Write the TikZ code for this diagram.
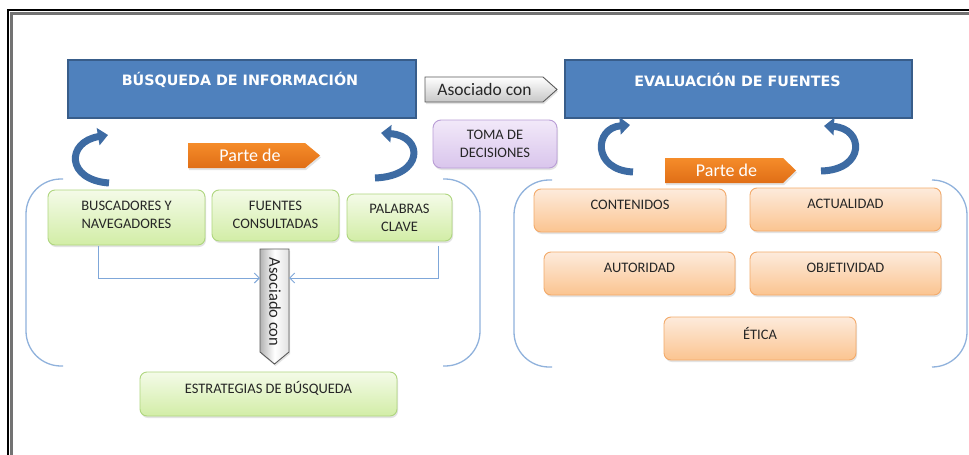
\documentclass[tikz,border=0pt]{standalone}
\usepackage{fontspec}
\setmainfont{Carlito}
\newfontfamily\headfont{DejaVu Sans}
\usetikzlibrary{arrows.meta,shadows,calc}
\definecolor{blueF}{HTML}{4F81BD}
\definecolor{blueD}{HTML}{385D8A}
\definecolor{arcB}{HTML}{3D6BA3}
\definecolor{grnT}{HTML}{F4FBE8}
\definecolor{grnB}{HTML}{D2EDA6}
\definecolor{grnD}{HTML}{AFD67F}
\definecolor{orT}{HTML}{FDEBDC}
\definecolor{orB}{HTML}{FBC490}
\definecolor{orD}{HTML}{F3AA6A}
\definecolor{puT}{HTML}{F2E9F9}
\definecolor{puB}{HTML}{D9C5EC}
\definecolor{puD}{HTML}{B99DD6}
\definecolor{tagO}{HTML}{F58C2A}
\definecolor{tagOD}{HTML}{E06E16}
\definecolor{lineB}{HTML}{7FA7D9}
\definecolor{brk}{HTML}{90B2DC}
\begin{document}
\begin{tikzpicture}[x=1pt,y=-1pt,
  headbox/.style={draw=blueD,line width=1.2,fill=blueF,inner sep=0},
  headtxt/.style={font=\headfont\bfseries\fontsize{14.3}{16}\selectfont,text=white,inner sep=0},
  shad/.style={drop shadow={opacity=0.22,shadow xshift=1pt,shadow yshift=-2pt}},
  gbox/.style={draw=grnD,line width=0.9,rounded corners=7,top color=grnT,bottom color=grnB,inner sep=0,shad},
  obox/.style={draw=orD,line width=0.9,rounded corners=7,top color=orT,bottom color=orB,inner sep=0,shad},
  pbox/.style={draw=puD,line width=0.9,rounded corners=8,top color=puT,bottom color=puB,inner sep=0,shad},
  lbl/.style={font=\fontsize{14.5}{18}\selectfont,text=black!85,align=center,inner sep=0},
  tagtxt/.style={font=\fontsize{18}{20}\selectfont,text=white,inner sep=0},
  ortag/.style={top color=tagO,bottom color=tagOD,draw=none,shad},
  graytag/.style={draw=black!65,line width=0.9,shad},
  curv/.style={draw=arcB,line width=7,-{Triangle[length=10pt,width=17pt]}},
  conn/.style={draw=lineB,line width=1,-{Straight Barb[length=5pt,width=10pt]}},
  brace/.style={draw=brk,line width=1.3,rounded corners=35}
]
\useasboundingbox (0,0) rectangle (969,455);
\fill[white] (0,0) rectangle (969,455);
% frame
\draw[black!55,line width=3] (11.5,455) -- (11.5,13.5) -- (969,13.5);
\draw[black,line width=1.6] (8,455) -- (8,10) -- (969,10);

% headings
\node[headbox,minimum width=348,minimum height=58] (bq) at (242,89) {};
\node[headtxt] (bqt) at (240,80) {BÚSQUEDA DE INFORMACIÓN};
\node[headbox,minimum width=347,minimum height=58] (ev) at (738.5,89) {};
\node[headtxt] (evt) at (737.5,80) {EVALUACIÓN DE FUENTES};

% Asociado con (horizontal)
\path[graytag,top color=white,bottom color=black!22] (425,77) -- (543,77) -- (557,89.5) -- (543,102) -- (425,102) -- cycle;
\node[font=\fontsize{17.5}{20}\selectfont,text=black!85,inner sep=0] (ah) at (484.5,89.5) {Asociado con};

% Toma de decisiones
\node[pbox,minimum width=124,minimum height=48] (toma) at (495,144) {};
\node[lbl] (tomat) at (495,144) {TOMA DE\\DECISIONES};

% Parte de tags
\path[ortag] (188,143) -- (305,143) -- (320,155.5) -- (305,168) -- (188,168) -- cycle;
\node[tagtxt] (p1) at (250,155.5) {Parte de};
\path[ortag] (665,158) -- (783,158) -- (796,170.5) -- (783,183) -- (665,183) -- cycle;
\node[tagtxt] (p2) at (726.5,170.5) {Parte de};

% curved arrows
\coordinate (a1s) at (109,183); \coordinate (a1e) at (108,135);
\coordinate (a2s) at (375,178); \coordinate (a2e) at (381,133);
\coordinate (a3s) at (633,172); \coordinate (a3e) at (630,125);
\coordinate (a4s) at (821,171); \coordinate (a4e) at (824,126);
\draw[curv] (a1s) .. controls (66,180) and (66,142) .. (a1e);
\draw[curv] (a2s) .. controls (424,176) and (424,136) .. (a2e);
\draw[curv] (a3s) .. controls (592,170) and (594,128) .. (a3e);
\draw[curv] (a4s) .. controls (866,170) and (864,128) .. (a4e);

% braces
\draw[brace] (63,179) -- (26,179) -- (26,366) -- (63,366);
\draw[brace] (443,179) -- (480,179) -- (480,366) -- (443,366);
\draw[brace] (552,180) -- (514,180) -- (514,367) -- (552,367);
\draw[brace] (932,180) -- (967,180) -- (967,367) -- (932,367);

% green boxes
\node[gbox,minimum width=157,minimum height=55] (busc) at (126.5,217.5) {};
\node[lbl] (busct) at (126.5,215) {BUSCADORES Y\\NAVEGADORES};
\node[gbox,minimum width=127,minimum height=51] (fuen) at (275.5,215.5) {};
\node[lbl] (fuent) at (275.5,215) {FUENTES\\CONSULTADAS};
\node[gbox,minimum width=105,minimum height=47] (pal) at (399.5,217.5) {};
\node[lbl] (palt) at (399.5,218) {PALABRAS\\CLAVE};
\node[gbox,minimum width=257,minimum height=44] (estr) at (268.5,394) {};
\node[lbl] (estrt) at (268.5,388) {ESTRATEGIAS DE BÚSQUEDA};

% vertical Asociado con
\path[graytag,left color=black!30,right color=black!12,middle color=white] (260,249) -- (289,249) -- (289,352) -- (274.5,364) -- (260,352) -- cycle;
\node[font=\fontsize{16.5}{20}\selectfont,text=black!85,inner sep=0,rotate=-90] (av) at (275,302) {Asociado con};
\coordinate (vaW) at (260,278);
\coordinate (vaE) at (289,278);

% connectors
\draw[conn] ([xshift=-28.5pt,yshift=-1pt]busc.south) |- (vaW);
\draw[conn] ([xshift=38.5pt,yshift=-5pt]pal.south) |- (vaE);

% orange boxes
\node[obox,minimum width=192,minimum height=43] (cont) at (630,210.5) {};
\node[lbl] (contt) at (630,205) {CONTENIDOS};
\node[obox,minimum width=191,minimum height=43] (actu) at (845.5,209.5) {};
\node[lbl] (actut) at (845.5,204) {ACTUALIDAD};
\node[obox,minimum width=191,minimum height=43] (auto) at (639.5,273.5) {};
\node[lbl] (autot) at (639.5,268) {AUTORIDAD};
\node[obox,minimum width=191,minimum height=43] (obje) at (845.5,273.5) {};
\node[lbl] (objet) at (845.5,268) {OBJETIVIDAD};
\node[obox,minimum width=192,minimum height=43] (etic) at (760,338.5) {};
\node[lbl] (etict) at (760,333) {ÉTICA};
\end{tikzpicture}
\end{document}
